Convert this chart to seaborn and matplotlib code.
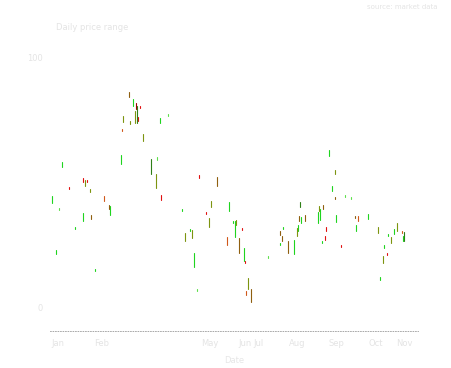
import pandas as pd
import matplotlib
matplotlib.use("Agg")
import matplotlib.pyplot as plt
import seaborn as sns

# candle data: day, low, high, colour tone
day = [2, 6, 9, 12, 19, 25, 33, 33, 35, 37, 40, 41, 45, 54, 59, 60,
       71, 73, 72, 79, 80, 83, 85, 86, 87, 88, 90, 93, 101, 106, 107, 110,
       111, 118, 132, 135, 140, 142, 144, 147, 149, 156, 159, 161, 167, 177, 179, 183,
       185, 186, 189, 192, 194, 195, 196, 198, 201, 218, 230, 232, 233, 230, 238, 244,
       247, 248, 249, 250, 251, 255, 268, 269, 270, 273, 276, 275, 272, 279, 282, 285,
       285, 286, 291, 295, 301, 305, 306, 308, 318, 328, 330, 333, 334, 337, 338, 341,
       344, 347, 352, 354, 353]
low = [41.8, 21.3, 39.0, 56.2, 47.4, 31.3, 50.2, 34.5, 48.6, 50.2, 46.2, 35.3, 14.5, 42.6, 39.4, 36.9,
       57.4, 74.3, 70.7, 84.3, 73.5, 80.7, 73.9, 79.5, 73.9, 74.7, 79.9, 66.7, 53.4, 47.8, 59.0, 73.9,
       43.0, 76.7, 38.6, 26.5, 30.5, 27.7, 16.1, 6.4, 51.8, 37.3, 32.1, 40.2, 48.6, 24.9, 38.6, 33.7,
       28.1, 32.9, 21.7, 30.9, 18.5, 17.7, 4.8, 7.2, 2.0, 19.7, 28.9, 26.5, 31.3, 24.9, 21.7, 21.3,
       28.5, 30.5, 34.5, 40.2, 33.7, 34.5, 33.7, 38.6, 34.9, 39.4, 30.5, 26.9, 25.7, 60.6, 46.6, 53.4,
       43.4, 34.1, 24.1, 44.2, 43.4, 35.7, 30.5, 34.5, 35.3, 29.7, 10.8, 17.7, 23.7, 20.9, 28.5, 25.7,
       29.3, 30.5, 29.7, 26.5, 26.5]
high = [44.6, 22.9, 39.8, 58.2, 48.2, 32.1, 51.8, 37.8, 51.0, 51.0, 47.4, 36.9, 15.3, 44.6, 41.0, 40.6,
        61.0, 76.7, 71.5, 86.3, 74.7, 83.5, 78.7, 81.9, 80.7, 76.3, 80.7, 69.5, 59.4, 53.4, 60.2, 75.9,
        45.0, 77.5, 39.4, 29.7, 31.3, 30.9, 21.7, 7.2, 53.0, 38.2, 35.7, 42.6, 52.2, 28.1, 42.2, 34.5,
        34.5, 34.9, 27.7, 31.7, 23.7, 18.5, 6.4, 11.6, 7.2, 20.5, 30.5, 28.5, 32.1, 25.7, 26.5, 26.9,
        31.7, 32.9, 36.5, 42.2, 36.1, 36.9, 38.2, 40.6, 39.4, 41.0, 32.1, 28.5, 26.5, 63.1, 48.6, 55.0,
        44.2, 36.9, 24.9, 45.0, 44.2, 36.5, 32.9, 36.5, 37.3, 32.1, 12.0, 20.5, 24.9, 21.7, 29.3, 28.1,
        31.3, 33.7, 30.5, 30.1, 28.5]
tone = ["g", "g", "lg", "g", "r", "g", "r", "g", "ol", "r", "ol", "br", "g", "or", "br", "g",
        "g", "ol", "or", "br", "ol", "g", "ol", "dr", "dg", "r", "r", "ol", "dg", "ol", "lg", "g",
        "r", "lg", "g", "ol", "g", "ol", "g", "lg", "r", "r", "ol", "ol", "br", "or", "g", "g",
        "g", "ol", "br", "r", "g", "r", "or", "ol", "br", "lg", "br", "br", "g", "g", "br", "g",
        "ol", "g", "br", "dg", "g", "br", "g", "ol", "g", "br", "r", "r", "g", "g", "g", "ol",
        "br", "g", "r", "lg", "lg", "br", "g", "or", "g", "ol", "g", "ol", "g", "r", "g", "ol",
        "g", "ol", "or", "dg", "g"]

palette = {"g": "#1fd41f", "lg": "#5ee04a", "dg": "#2f7f18", "ol": "#7d9410",
           "br": "#8f5f10", "or": "#d0581a", "r": "#e01010", "dr": "#a00000"}

rows = []
for i in range(len(day)):
    rows.append({"cid": i, "day": day[i], "price": low[i], "tone": tone[i]})
    rows.append({"cid": i, "day": day[i], "price": high[i], "tone": tone[i]})
df = pd.DataFrame(rows)

sns.set_style("white")
plt.rcParams["font.family"] = ["DejaVu Sans"]

fig = plt.figure(figsize=(4.52, 3.68), dpi=100)
ax = fig.add_axes([50 / 452, 37 / 368, 368 / 452, 281 / 368])

sns.lineplot(data=df, x="day", y="price", units="cid", estimator=None, hue="tone",
             palette=palette, linewidth=0.8, legend=False, sort=False, ax=ax)

ax.set_xlim(0, 368)
ax.set_ylim(-9.6, 103.2)

yt = list(range(0, 101, 10))
ax.set_yticks(yt)
ax.set_yticklabels([str(v) if v in (0, 100) else "" for v in yt])
month_days = [8, 52, 160, 195, 209, 247, 286, 326, 354]
month_lab = ["Jan", "Feb", "May", "Jun", "Jul", "Aug", "Sep", "Oct", "Nov"]
ax.set_xticks(month_days)
ax.set_xticklabels(month_lab)
ax.tick_params(axis="both", length=2, width=0.5, colors="#e6e6e6", labelsize=6,
               labelcolor="#e4e4e4")
ax.set_xlabel("Date", fontsize=6, color="#e6e6e6", labelpad=6)
ax.set_ylabel("")

for s in ["top", "right", "left"]:
    ax.spines[s].set_visible(False)
ax.spines["bottom"].set_linestyle((0, (1, 2)))
ax.spines["bottom"].set_color("#9a9a9a")
ax.spines["bottom"].set_linewidth(0.6)

fig.text(56 / 452, 1 - 27 / 368, "Daily price range", fontsize=6, color="#e4e4e4", va="center")
fig.text(438 / 452, 1 - 7 / 368, "source: market data", fontsize=5, color="#e4e4e4",
         ha="right", va="center")

fig.savefig("out.png", dpi=100)
